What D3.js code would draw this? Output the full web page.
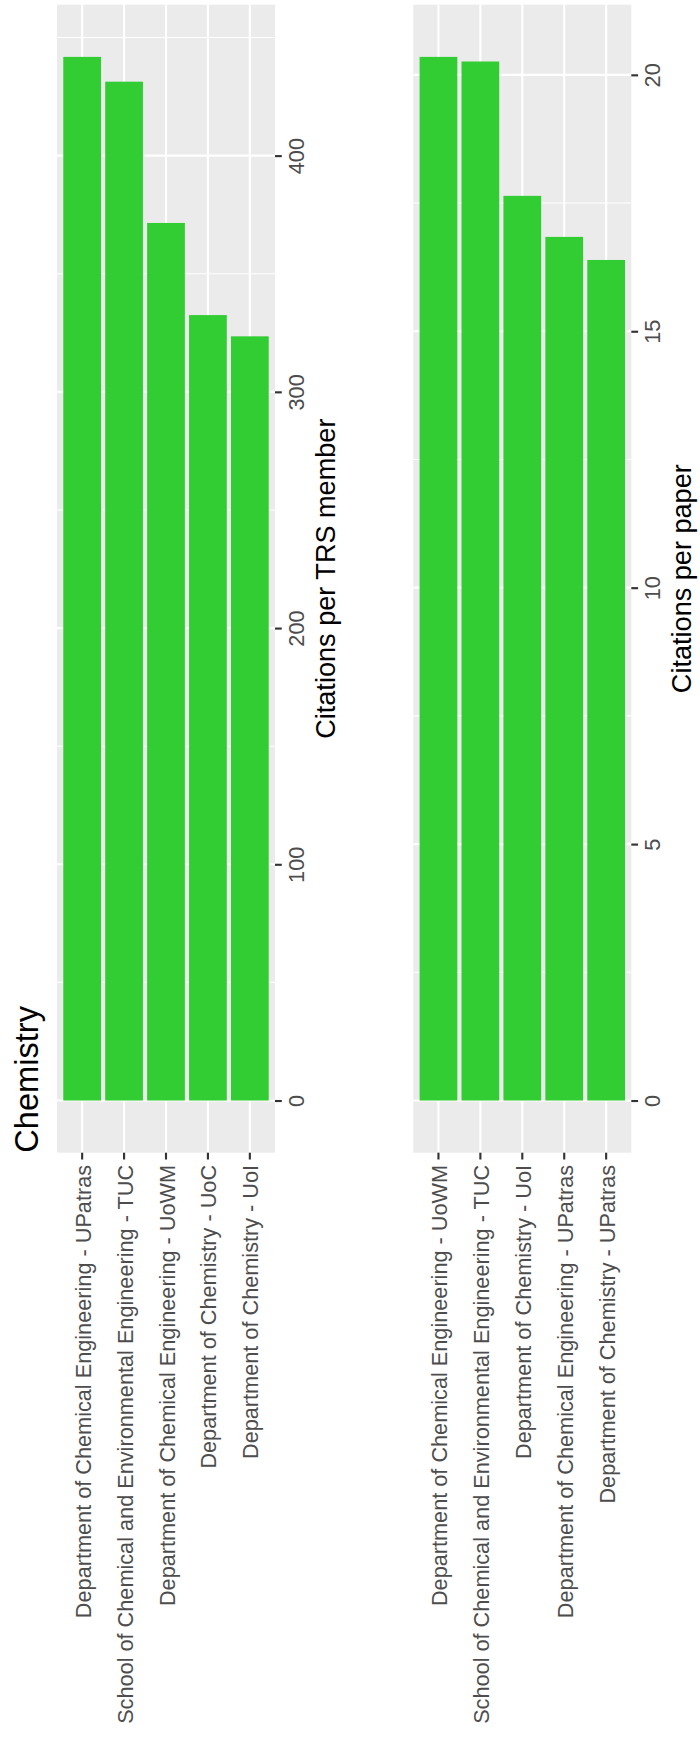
<!DOCTYPE html>
<html>
<head>
<meta charset="utf-8">
<script src="https://cdn.jsdelivr.net/npm/d3@7"></script>
<style>
  html, body { margin: 0; padding: 0; background: #ffffff; }
  svg { display: block; }
  text { font-family: Arial, "Liberation Sans", sans-serif; }
</style>
</head>
<body>
<script>
// ---- Data ----
const chartTitle = "Chemistry";

const categories1 = [
  "Department of Chemical Engineering - UPatras",
  "School of Chemical and Environmental Engineering - TUC",
  "Department of Chemical Engineering - UoWM",
  "Department of Chemistry - UoC",
  "Department of Chemistry - UoI"
];
const values1 = [441.8, 431.3, 371.5, 332.5, 323.5];
const ticks1 = [0, 100, 200, 300, 400];
const minorTicks1 = [50, 150, 250, 350, 450];
const axisTitle1 = "Citations per TRS member";

const categories2 = [
  "Department of Chemical Engineering - UoWM",
  "School of Chemical and Environmental Engineering - TUC",
  "Department of Chemistry - UoI",
  "Department of Chemical Engineering - UPatras",
  "Department of Chemistry - UPatras"
];
const values2 = [20.35, 20.26, 17.64, 16.84, 16.39];
const ticks2 = [0, 5, 10, 15, 20];
const minorTicks2 = [2.5, 7.5, 12.5, 17.5];
const axisTitle2 = "Citations per paper";

// ---- Layout ----
const W = 700, H = 1738;
const PANEL_TOP = 4.7, PANEL_BOTTOM = 1152.7;
const TICK_LEN = 6.8;
const FS_TICK = 21.7, FS_AXTITLE = 27.1, FS_TITLE = 32.6;

const svg = d3.select("body").append("svg")
  .attr("width", W).attr("height", H);
svg.append("rect").attr("width", W).attr("height", H).attr("fill", "#ffffff");

function drawPanel(x0, x1, cats, vals, ticks, minor, axTitle) {
  const g = svg.append("g");
  const vmax = d3.max(vals);
  const y = d3.scaleLinear()
    .domain([-0.05 * vmax, 1.05 * vmax])
    .range([PANEL_BOTTOM, PANEL_TOP]);
  const x = d3.scaleBand()
    .domain(cats)
    .range([x0, x1])
    .paddingInner(0.1)
    .paddingOuter(0.15);
  const bw = x.bandwidth();

  // background
  g.append("rect")
    .attr("x", x0).attr("y", PANEL_TOP)
    .attr("width", x1 - x0).attr("height", PANEL_BOTTOM - PANEL_TOP)
    .attr("fill", "#EBEBEB");

  // minor gridlines
  g.selectAll("line.minor").data(minor).join("line")
    .attr("class", "minor")
    .attr("x1", x0).attr("x2", x1)
    .attr("y1", d => y(d)).attr("y2", d => y(d))
    .attr("stroke", "#ffffff").attr("stroke-width", 1.07);

  // major gridlines (values)
  g.selectAll("line.majorv").data(ticks).join("line")
    .attr("class", "majorv")
    .attr("x1", x0).attr("x2", x1)
    .attr("y1", d => y(d)).attr("y2", d => y(d))
    .attr("stroke", "#ffffff").attr("stroke-width", 2.13);

  // major gridlines (categories)
  g.selectAll("line.majorc").data(cats).join("line")
    .attr("class", "majorc")
    .attr("x1", d => x(d) + bw / 2).attr("x2", d => x(d) + bw / 2)
    .attr("y1", PANEL_TOP).attr("y2", PANEL_BOTTOM)
    .attr("stroke", "#ffffff").attr("stroke-width", 2.13);

  // bars
  g.selectAll("rect.bar").data(cats.map((c, i) => ({ c, v: vals[i] }))).join("rect")
    .attr("class", "bar")
    .attr("x", d => x(d.c))
    .attr("width", bw)
    .attr("y", d => y(d.v))
    .attr("height", d => y(0) - y(d.v))
    .attr("fill", "#32CD32");

  // value axis (right side)
  const ay = g.append("g")
    .attr("transform", `translate(${x1},0)`)
    .call(d3.axisRight(y).tickValues(ticks).tickSize(TICK_LEN).tickSizeOuter(0).tickFormat(d3.format("d")));
  ay.select(".domain").remove();
  ay.selectAll(".tick line").attr("stroke", "#333333").attr("stroke-width", 2.13);
  ay.selectAll(".tick text")
    .attr("x", null).attr("dy", null)
    .attr("transform", "translate(29,0) rotate(-90)")
    .attr("text-anchor", "middle")
    .attr("fill", "#4D4D4D")
    .attr("font-size", FS_TICK)
    .attr("font-family", "Arial, 'Liberation Sans', sans-serif");

  // category axis (bottom)
  const ax = g.append("g")
    .attr("transform", `translate(0,${PANEL_BOTTOM})`)
    .call(d3.axisBottom(x).tickSize(TICK_LEN).tickSizeOuter(0));
  ax.select(".domain").remove();
  ax.selectAll(".tick line").attr("stroke", "#333333").attr("stroke-width", 2.13);
  ax.selectAll(".tick text")
    .attr("y", null).attr("dy", null)
    .attr("transform", "translate(8.5,12.2) rotate(-90)")
    .attr("text-anchor", "end")
    .attr("fill", "#4D4D4D")
    .attr("font-size", FS_TICK)
    .attr("font-family", "Arial, 'Liberation Sans', sans-serif");

  // axis title
  g.append("text")
    .attr("transform", `translate(${x1 + 60},${(PANEL_TOP + PANEL_BOTTOM) / 2}) rotate(-90)`)
    .attr("text-anchor", "middle")
    .attr("font-size", FS_AXTITLE)
    .attr("fill", "#000000")
    .text(axTitle);
}

drawPanel(57, 275, categories1, values1, ticks1, minorTicks1, axisTitle1);
drawPanel(413.3, 631.3, categories2, values2, ticks2, minorTicks2, axisTitle2);

// main title
svg.append("text")
  .attr("transform", `translate(37.5,${PANEL_BOTTOM}) rotate(-90)`)
  .attr("text-anchor", "start")
  .attr("font-size", FS_TITLE)
  .attr("fill", "#000000")
  .text(chartTitle);
</script>
</body>
</html>
